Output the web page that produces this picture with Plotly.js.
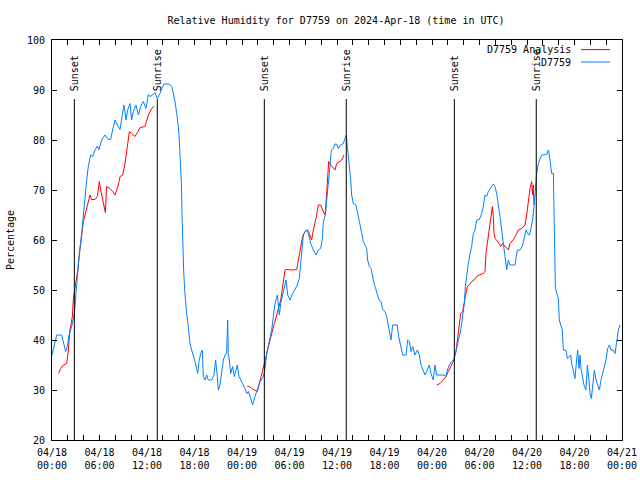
<!DOCTYPE html>
<html>
<head>
<meta charset="utf-8">
<script src="https://cdn.plot.ly/plotly-3.0.1.min.js"></script>
<style>html,body{margin:0;padding:0;background:#fff;}#chart{width:640px;height:480px;}</style>
</head>
<body>
<div id="chart"></div>
<script>
// Hours since 2024-04-18 00:00 UTC
const obsHours = [0.00,0.60,1.22,1.43,1.73,1.94,2.11,2.48,2.82,3.03,3.20,3.45,3.75,3.96,4.17,4.38,4.59,4.88,5.14,5.43,5.73,5.94,6.27,6.69,7.12,7.41,7.66,7.96,8.25,8.59,8.88,9.09,9.35,9.56,9.85,10.06,10.27,10.61,10.91,11.20,11.54,11.87,12.17,12.38,12.71,13.01,13.30,13.64,13.85,14.15,14.82,15.11,15.33,15.54,15.75,15.96,16.08,16.21,16.34,16.42,16.50,16.63,16.76,16.88,17.01,17.22,17.43,17.64,17.85,18.06,18.27,18.40,18.57,18.78,18.99,19.11,19.32,19.54,19.74,20.17,20.46,20.67,20.88,21.01,21.22,21.43,21.64,21.85,22.06,22.19,22.27,22.40,22.57,22.82,23.03,23.24,23.41,23.62,23.87,24.08,24.38,24.59,24.80,25.01,25.35,25.64,25.94,26.28,26.70,26.91,27.12,27.45,27.75,27.96,28.17,28.47,28.72,28.89,29.14,29.35,29.56,29.77,30.07,30.40,30.70,30.99,31.24,31.33,31.54,31.75,31.96,32.17,32.38,32.68,33.01,33.35,33.64,33.94,34.15,34.28,34.53,34.70,34.86,35.03,35.29,35.54,35.75,35.96,36.17,36.46,36.80,37.01,37.18,37.31,37.43,37.56,37.73,37.85,38.06,38.40,38.57,38.78,38.99,39.20,39.33,39.54,39.75,39.87,40.08,40.30,40.46,40.67,40.88,41.10,41.31,41.56,41.77,42.06,42.27,42.48,42.70,42.82,43.03,43.62,43.79,44.04,44.29,44.72,44.93,45.14,45.35,45.56,45.85,46.15,46.40,46.61,46.82,47.12,47.41,47.66,47.87,48.17,48.38,48.59,49.01,49.52,49.77,49.94,50.19,50.48,50.78,51.03,51.33,51.54,51.75,51.96,52.08,52.21,52.38,52.59,52.80,53.01,53.22,53.43,53.64,53.98,54.27,54.48,54.69,54.90,55.11,55.32,55.54,55.75,55.96,56.17,56.38,56.59,56.80,57.01,57.22,57.43,57.64,57.85,58.48,58.78,59.11,59.41,59.62,59.87,60.08,60.29,60.50,60.71,60.88,61.05,61.22,61.43,61.64,61.85,62.49,62.70,62.82,62.99,63.12,63.33,63.37,63.45,63.58,63.75,63.96,64.08,64.25,64.46,64.59,64.93,65.10,65.31,65.52,65.64,65.85,66.06,66.27,66.40,66.57,66.70,66.82,67.03,67.20,67.45,67.62,67.83,67.96,68.13,68.29,68.51,68.72,68.93,69.14,69.35,69.56,69.77,69.98,70.19,70.40,70.61,70.91,71.12,71.33,71.54,71.75];
const obsRH = [37.0,41,41,39.7,37.7,38.7,40.7,42.7,45.3,49.3,53.3,57.3,61.3,65.3,69.3,72,74.7,77,76.7,78,78.8,78.1,80,81,80.1,80.1,82,84,83,82.1,85,87,84,86,87.3,84,85.7,87,85,86.7,87.7,86.3,89.1,88.7,89,89.5,88.3,89.3,90.3,91.2,91.2,90.7,89.3,87.7,85.3,82.7,80,76,71.3,65.3,60,54,50,47.3,45.3,42.7,39.3,38,37,35.7,34.3,33.3,35.7,37.3,38,32.7,32,33,32,32,33,36,32.7,30,31,33.3,36,37,37.3,44,37.3,36,33.3,34.7,32.7,34,35,32.7,32,31.3,30.3,29.3,29.7,28.7,27,28.7,30,31.7,32.7,34.3,37.3,39.7,42,44.7,47.3,49,45,47.3,49.3,50.7,52,49,48,49.3,50.3,51,52.3,54,58,61,61.7,62,61.3,59.3,58,57,58,58.3,60.3,63.7,65,69,70.7,73.3,78,78.3,79.2,79.2,78.3,79,79.3,80.3,81,78.7,76,74.7,72,69,67.3,67,65.7,64,62.7,61.3,59.7,59,58.3,56,54.7,54.3,52.7,51.3,50.3,49.3,48,47.7,46.1,45.7,44.7,43,41.3,40,43,43,40.7,39,37,37,40,39.7,37.7,38.7,37,38,37,35,34,33,34,35,33.3,32,35,33,33,33,32.7,34,35,35.7,36.1,37.7,39.7,41.3,43.3,45.3,47.3,50.7,53.3,55.3,57.3,58.7,61.3,62,64,64.1,65.3,66.7,69,68.7,69.7,70.3,70.7,71.2,70.7,69.3,67.3,64.7,62,58.7,56.7,54,56,55,55,58,58,58.7,60.3,62,61.3,61,62.3,64,66.7,70.7,73.3,75.3,76.3,77,77.1,78,77,75.3,73.3,73.3,67.7,56.3,50.7,49.3,48.3,44,43,42,38,37.9,36.3,36.7,37,35.3,34,32.3,36,38,34.3,37,34.3,32.7,31,30,35,32,29.3,28.3,30.7,34,32,30.7,30,32,33.3,35,36,38.3,39,38,38,37.3,40,42,43];

// Analysis series (null separates the three analysis windows)
const anaHours = [0.80,1.10,1.43,1.85,2.07,2.27,2.57,2.70,2.99,3.24,3.45,3.62,3.83,3.96,4.17,4.38,4.59,4.80,5.01,5.43,5.73,5.98,6.15,6.40,6.57,6.74,6.90,7.33,7.66,7.96,8.38,8.59,8.93,9.22,9.52,9.77,10.06,10.48,10.78,11.12,11.75,11.96,12.17,12.59,12.92,
  18.0,
  24.67,24.93,25.22,25.64,25.94,26.19,26.49,26.78,27.03,27.33,27.75,28.09,28.38,28.72,28.89,29.14,29.43,29.64,30.28,30.91,31.12,31.41,31.66,31.96,32.25,32.51,32.80,33.01,33.35,33.64,33.94,34.19,34.49,34.61,34.78,34.95,35.20,35.54,35.75,35.96,36.30,36.59,36.89,
  42.0,
  48.59,49.01,49.43,49.77,50.06,50.36,50.69,51.03,51.33,51.62,51.87,52.04,52.29,52.46,52.71,53.01,53.30,53.64,53.98,54.48,54.69,54.82,54.99,55.24,55.41,55.62,55.75,55.83,55.96,56.17,56.46,56.71,56.92,57.22,57.64,57.85,58.27,58.61,58.90,59.32,59.75,59.96,60.17,60.38,60.59,60.71,60.80,60.88];
const anaRH = [33.3,34.3,35,35.3,38,42,44.7,48.3,51.3,53.7,57,59.3,61.3,63.7,65,66.3,67.7,69,68.1,68.1,68.7,71.7,70,68.3,67,65.5,70.7,70.3,69.7,69,71,72.7,73,75.3,78.7,81.7,81.3,80.7,81.5,82.5,82.7,84,85,86.3,86.8,
  null,
  30.7,30.7,30.3,30,29.7,31.3,33.3,35.3,36.7,38.7,41.3,43.3,45.3,47,48,51,54,54.1,54,54.1,56,58.3,60.7,61.7,62,61.3,60,62,64.3,67,67,66,65,67.3,72,75.7,75,74.3,74,75.3,75.7,76,77,
  null,
  31,31.3,32,32.7,33.7,34.7,35.7,37.7,41.7,45.3,45.7,47.3,49,50.7,51,51.7,52,52.7,53,53.3,53.7,57.3,59.3,62,64,66.7,64.7,61.3,60.3,60,59.3,58.7,59.3,58.7,58,59.3,60.1,61,62,62.3,63,65,68,70.3,71.7,69,71,67];

const seriesNames = ["D7759 Analysis", "D7759"];
const seriesColors = ["#ff0000", "#0080ff"];

const sunLabels = ["Sunset","Sunrise","Sunset","Sunrise","Sunset","Sunrise"];
const sunHours = [2.82, 13.30, 26.82, 37.17, 50.82, 61.17];

const tickHours = [0,2,4,6,8,10,12,14,16,18,20,22,24,26,28,30,32,34,36,38,40,42,44,46,48,50,52,54,56,58,60,62,64,66,68,70,72];
const majorTickLabels = {0:"04/18<br>00:00",6:"04/18<br>06:00",12:"04/18<br>12:00",18:"04/18<br>18:00",24:"04/19<br>00:00",30:"04/19<br>06:00",36:"04/19<br>12:00",42:"04/19<br>18:00",48:"04/20<br>00:00",54:"04/20<br>06:00",60:"04/20<br>12:00",66:"04/20<br>18:00",72:"04/21<br>00:00"};

const FONT = {family: "DejaVu Sans Mono, monospace", size: 10, color: "#000"};

const traces = [
  {x: anaHours, y: anaRH, type: "scatter", mode: "lines", name: seriesNames[0],
   line: {color: seriesColors[0], width: 1}, connectgaps: false, hoverinfo: "skip"},
  {x: obsHours, y: obsRH, type: "scatter", mode: "lines", name: seriesNames[1],
   line: {color: seriesColors[1], width: 1}, hoverinfo: "skip"}
];

const shapes = [];
const annotations = [];
sunHours.forEach((h, i) => {
  shapes.push({type: "line", xref: "x", yref: "y", x0: h, x1: h, y0: 20, y1: 88.2,
               line: {color: "#000", width: 1}});
  annotations.push({xref: "x", yref: "y", x: h, y: 89.4, text: sunLabels[i], textangle: -90,
                    showarrow: false, xanchor: "center", yanchor: "bottom", font: FONT});
});
// gnuplot-style key: text then line sample
const keyY = [0.976, 0.945];
seriesNames.forEach((n, i) => {
  annotations.push({xref: "paper", yref: "paper", x: 0.914, y: keyY[i], text: n, showarrow: false,
                    xanchor: "right", yanchor: "middle", font: FONT, bgcolor: "rgba(0,0,0,0)"});
  shapes.push({type: "line", xref: "paper", yref: "paper", x0: 0.928, x1: 0.979, y0: keyY[i], y1: keyY[i],
               line: {color: seriesColors[i], width: 1}});
});

const layout = {
  width: 640, height: 480,
  margin: {l: 52, r: 18, t: 40, b: 40, pad: 0},
  paper_bgcolor: "#fff", plot_bgcolor: "#fff",
  font: FONT,
  showlegend: false,
  title: {text: "Relative Humidity for D7759 on 2024-Apr-18 (time in UTC)", font: FONT,
          x: 0.525, xanchor: "center", y: 0.957, yanchor: "middle"},
  xaxis: {range: [0, 72], tickmode: "array", tickvals: tickHours,
          ticktext: tickHours.map(h => majorTickLabels[h] || ""),
          ticks: "inside", ticklen: 5, tickcolor: "#000", tickwidth: 1,
          ticklabelstandoff: 3,
          showline: true, linecolor: "#000", linewidth: 1, mirror: "allticks",
          showgrid: false, zeroline: false, tickfont: FONT, fixedrange: true},
  yaxis: {range: [20, 100], tickmode: "linear", tick0: 20, dtick: 10,
          ticks: "inside", ticklen: 5, tickcolor: "#000", tickwidth: 1,
          ticklabelstandoff: 4,
          showline: true, linecolor: "#000", linewidth: 1, mirror: "allticks",
          showgrid: false, zeroline: false, tickfont: FONT, fixedrange: true,
          title: {text: "Percentage", font: FONT, standoff: 10}},
  shapes: shapes,
  annotations: annotations
};

Plotly.newPlot("chart", traces, layout, {staticPlot: true, displayModeBar: false});
</script>
</body>
</html>
